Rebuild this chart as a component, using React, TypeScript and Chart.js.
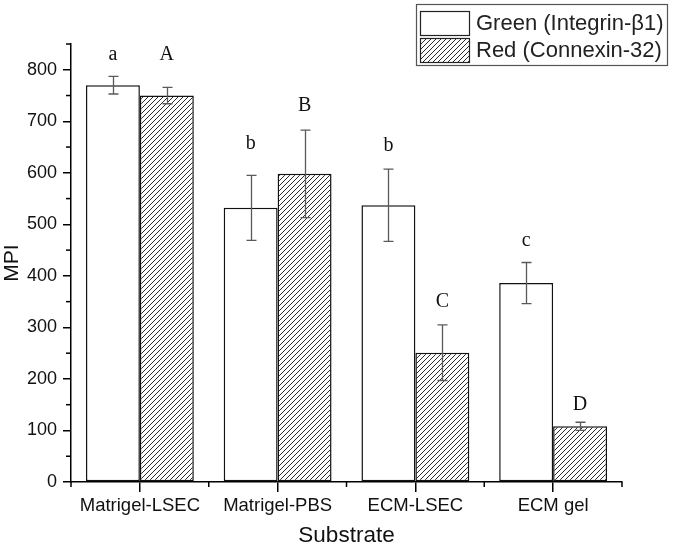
import React, { useEffect, useRef } from "react";
import { Chart, registerables } from "chart.js";

Chart.register(...registerables);

const categories = ["Matrigel-LSEC", "Matrigel-PBS", "ECM-LSEC", "ECM gel"];
const greenLabel = "Green (Integrin-\u03B21)";
const redLabel = "Red (Connexin-32)";
const greenValues = [770, 532, 537, 386];
const greenErrors = [17, 63, 70, 40];
const redValues = [750, 598, 251, 108];
const redErrors = [16, 85, 54, 8];
const greenLetters = ["a", "b", "b", "c"];
const greenLetterY = [829, 657, 653, 469];
const redLetters = ["A", "B", "C", "D"];
const redLetterY = [829, 731, 349, 149];
const yMinorTicks = [50, 150, 250, 350, 450, 550, 650, 750, 850];
const yMax = 850;

const SANS = "'Liberation Sans', Arial, sans-serif";
const SERIF = "'Liberation Serif', 'Times New Roman', serif";

function makeHatch(): CanvasPattern | string {
  const c = document.createElement("canvas");
  const s = 5;
  c.width = s;
  c.height = s;
  const g = c.getContext("2d");
  if (!g) return "#888";
  g.fillStyle = "#ffffff";
  g.fillRect(0, 0, s, s);
  g.strokeStyle = "#2a2a2a";
  g.lineWidth = 1;
  g.beginPath();
  g.moveTo(-1, s + 1);
  g.lineTo(s + 1, -1);
  g.moveTo(-1, 1);
  g.lineTo(1, -1);
  g.moveTo(s - 1, s + 1);
  g.lineTo(s + 1, s - 1);
  g.stroke();
  const p = g.createPattern(c, "repeat");
  return p || "#888";
}

const overlayPlugin = {
  id: "overlay",
  afterDatasetsDraw(chart: any) {
    const ctx: CanvasRenderingContext2D = chart.ctx;
    const ys = chart.scales.y;
    const xs = chart.scales.x;
    ctx.save();

    // error bars
    const sets: [number[], number[]][] = [
      [greenValues, greenErrors],
      [redValues, redErrors],
    ];
    ctx.strokeStyle = "#5a5a5a";
    ctx.lineWidth = 1.3;
    sets.forEach(([vals, errs], di) => {
      const meta = chart.getDatasetMeta(di);
      meta.data.forEach((bar: any, i: number) => {
        const cx = Math.round(bar.x) + 0.5;
        const t = ys.getPixelForValue(vals[i] + errs[i]);
        const b = ys.getPixelForValue(vals[i] - errs[i]);
        ctx.beginPath();
        ctx.moveTo(cx, t);
        ctx.lineTo(cx, b);
        ctx.moveTo(cx - 5, t);
        ctx.lineTo(cx + 5, t);
        ctx.moveTo(cx - 5, b);
        ctx.lineTo(cx + 5, b);
        ctx.stroke();
      });
    });

    // significance letters
    ctx.fillStyle = "#111";
    ctx.font = `20px ${SERIF}`;
    ctx.textAlign = "center";
    ctx.textBaseline = "middle";
    const letterSets: [string[], number[]][] = [
      [greenLetters, greenLetterY],
      [redLetters, redLetterY],
    ];
    letterSets.forEach(([letters, ly], di) => {
      const meta = chart.getDatasetMeta(di);
      meta.data.forEach((bar: any, i: number) => {
        ctx.fillText(letters[i], bar.x, ys.getPixelForValue(ly[i]));
      });
    });

    // minor ticks on y
    ctx.strokeStyle = "#000";
    ctx.lineWidth = 1.5;
    const ax = xs.left;
    yMinorTicks.forEach((v) => {
      const py = ys.getPixelForValue(v);
      ctx.beginPath();
      ctx.moveTo(ax, py);
      ctx.lineTo(ax - 5, py);
      ctx.stroke();
    });
    // minor ticks on x at category boundaries
    const n = categories.length;
    const step = (xs.right - xs.left) / n;
    for (let i = 0; i <= n; i++) {
      const px = xs.left + step * i;
      ctx.beginPath();
      ctx.moveTo(px, ys.bottom);
      ctx.lineTo(px, ys.bottom + 5);
      ctx.stroke();
    }

    // legend
    const lx = 416;
    const ly0 = 4;
    ctx.strokeStyle = "#555";
    ctx.lineWidth = 1.2;
    ctx.fillStyle = "#fff";
    ctx.fillRect(lx, ly0, 252, 62);
    ctx.strokeRect(lx + 0.5, ly0 + 0.5, 251, 61);
    const sw = [
      { y: 11, fill: chart.data.datasets[0].backgroundColor, label: chart.data.datasets[0].label },
      { y: 38, fill: chart.data.datasets[1].backgroundColor, label: chart.data.datasets[1].label },
    ];
    sw.forEach((s) => {
      ctx.fillStyle = s.fill;
      ctx.fillRect(420, s.y, 49, 24);
      ctx.strokeStyle = "#222";
      ctx.lineWidth = 1.2;
      ctx.strokeRect(420.5, s.y + 0.5, 49, 24);
      ctx.fillStyle = "#222";
      ctx.font = `22px ${SANS}`;
      ctx.textAlign = "left";
      ctx.textBaseline = "middle";
      ctx.fillText(s.label, 476, s.y + 13);
    });

    ctx.restore();
  },
};

export default function App() {
  const ref = useRef<HTMLCanvasElement | null>(null);

  useEffect(() => {
    if (!ref.current) return;
    const hatch = makeHatch();
    const chart = new Chart(ref.current, {
      type: "bar",
      data: {
        labels: categories,
        datasets: [
          {
            label: greenLabel,
            data: greenValues,
            backgroundColor: "#ffffff",
            borderColor: "#111",
            borderWidth: 1.5,
            borderSkipped: false,
            categoryPercentage: 0.783,
            barPercentage: 1,
          },
          {
            label: redLabel,
            data: redValues,
            backgroundColor: hatch as any,
            borderColor: "#111",
            borderWidth: 1.5,
            borderSkipped: false,
            categoryPercentage: 0.783,
            barPercentage: 1,
          },
        ],
      },
      options: {
        responsive: false,
        animation: false,
        devicePixelRatio: 1,
        layout: { padding: { top: 44, right: 53, left: 0, bottom: 0 } },
        plugins: {
          legend: { display: false },
          tooltip: { enabled: false },
        },
        scales: {
          x: {
            type: "category",
            offset: true,
            grid: {
              display: true,
              offset: false,
              drawOnChartArea: false,
              drawTicks: true,
              tickLength: 10,
              color: "#000",
              lineWidth: 1.5,
            },
            border: { display: true, color: "#000", width: 1.5 },
            ticks: {
              color: "#111",
              font: { family: SANS, size: 18.5 },
              padding: 3,
              maxRotation: 0,
              autoSkip: false,
            },
            title: {
              display: true,
              text: "Substrate",
              color: "#111",
              font: { family: SANS, size: 22.5 },
              padding: { top: 0, bottom: 0 },
            },
            afterFit: (s: any) => {
              s.height = 67;
            },
          },
          y: {
            min: 0,
            max: yMax,
            grid: {
              display: true,
              drawOnChartArea: false,
              drawTicks: true,
              tickLength: 8,
              color: "#000",
              lineWidth: 1.5,
            },
            border: { display: true, color: "#000", width: 1.5 },
            ticks: {
              stepSize: 100,
              includeBounds: false,
              color: "#111",
              font: { family: SANS, size: 18 },
              padding: 6,
            },
            title: {
              display: true,
              text: "MPI",
              color: "#111",
              font: { family: SANS, size: 21 },
              padding: { top: 0, bottom: 0 },
            },
            afterFit: (s: any) => {
              s.width = 71;
            },
          },
        },
      },
      plugins: [overlayPlugin],
    });
    return () => chart.destroy();
  }, []);

  return (
    <div style={{ position: "absolute", left: 0, top: 0, width: 675, height: 549, background: "#fff" }}>
      <canvas ref={ref} width={675} height={549} style={{ display: "block" }} />
    </div>
  );
}
